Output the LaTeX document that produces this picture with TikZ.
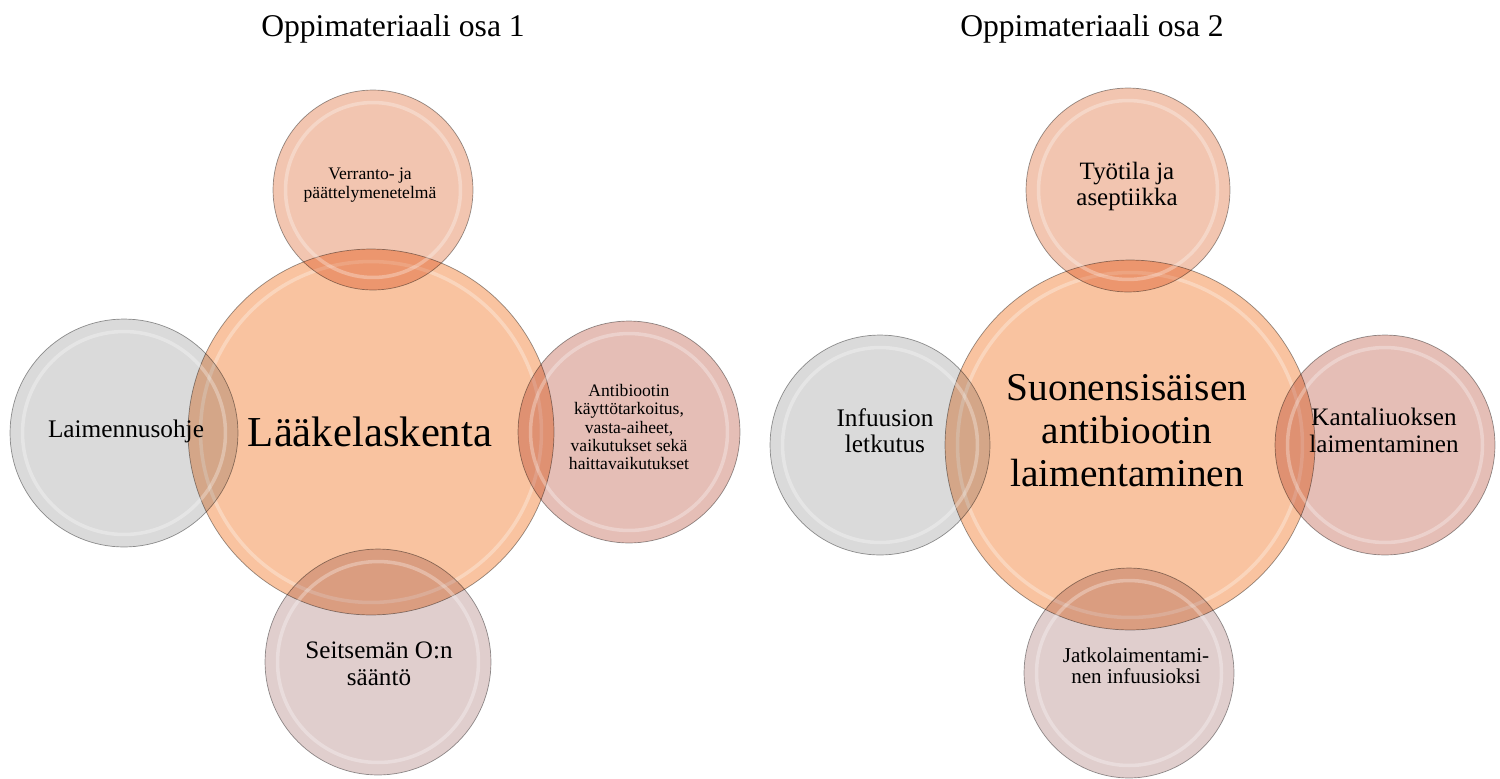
\documentclass[tikz,border=0pt]{standalone}
\usepackage{fontspec}
\setmainfont{Liberation Serif}
\definecolor{paaoranssi}{RGB}{249,195,160}
\definecolor{lohi}{RGB}{242,197,176}
\definecolor{ruusu}{RGB}{229,190,182}
\definecolor{malva}{RGB}{224,206,205}
\definecolor{harmaa}{RGB}{218,218,218}
\tikzset{
  pallo/.style 2 args={circle, inner sep=0pt, minimum size=#1, fill=#2,
    draw=black!40, line width=0.4pt,
    path picture={\draw[blend mode=normal, white, opacity=.3, line width=2pt]
      (path picture bounding box.center) circle ({#1/2-0.25cm});}},
  teksti/.style 2 args={align=center, font=\fontsize{#1}{#2}\selectfont},
}
\begin{document}
\begin{tikzpicture}[x=0.02cm, y=-0.02cm]
    \useasboundingbox (0,0) rectangle (1500,778);

    % otsikot
    \node[teksti={18}{21}] (otsikko1) at (393,29) {Oppimateriaali osa 1};
    \node[teksti={18}{21}] (otsikko2) at (1092,29) {Oppimateriaali osa 2};

    % osa 1
    \begin{scope}[blend mode=multiply]
        \node[pallo={7.32cm}{paaoranssi}] (keski1) at (371,432) {};
        \node[pallo={4.56cm}{harmaa}] (vasen1) at (124,433) {};
        \node[pallo={4.44cm}{ruusu}] (oikea1) at (629,432) {};
        \node[pallo={4.0cm}{lohi}] (yla1) at (373,190) {};
        \node[pallo={4.52cm}{malva}] (ala1) at (378,662) {};
    \end{scope}
    \node[teksti={24.3}{28}] (t-keski1) at (370,432) {Lääkelaskenta};
    \node[teksti={14.4}{16}] (t-vasen1) at (126,431) {Laimennusohje};
    \node[teksti={10}{10.4}] (t-oikea1) at (629,427)
        {Antibiootin\\käyttötarkoitus,\\vasta-aiheet,\\vaikutukset sekä\\haittavaikutukset};
    \node[teksti={10}{10.4}] (t-yla1) at (370,185) {Verranto- ja\\päättelymenetelmä};
    \node[teksti={14.3}{15.5}] (t-ala1) at (379,664) {Seitsemän O:n\\sääntö};

    % osa 2
    \begin{scope}[blend mode=multiply]
        \node[pallo={7.4cm}{paaoranssi}] (keski2) at (1130,445) {};
        \node[pallo={4.4cm}{harmaa}] (vasen2) at (880,445) {};
        \node[pallo={4.4cm}{ruusu}] (oikea2) at (1385,445) {};
        \node[pallo={4.08cm}{lohi}] (yla2) at (1128,190) {};
        \node[pallo={4.2cm}{malva}] (ala2) at (1129,673) {};
    \end{scope}
    \node[teksti={22.4}{24.5}] (t-keski2) at (1127,431)
        {Suonensisäisen\\antibiootin\\laimentaminen};
    \node[teksti={14.4}{14.8}] (t-vasen2) at (885,431) {Infuusion\\letkutus};
    \node[teksti={14.3}{15.4}] (t-oikea2) at (1384,430) {Kantaliuoksen\\laimentaminen};
    \node[teksti={14.2}{14.8}] (t-yla2) at (1127,186) {Työtila ja\\aseptiikka};
    \node[teksti={12}{11.8}] (t-ala2) at (1136,666) {Jatkolaimentami-\\nen infuusioksi};
\end{tikzpicture}
\end{document}
